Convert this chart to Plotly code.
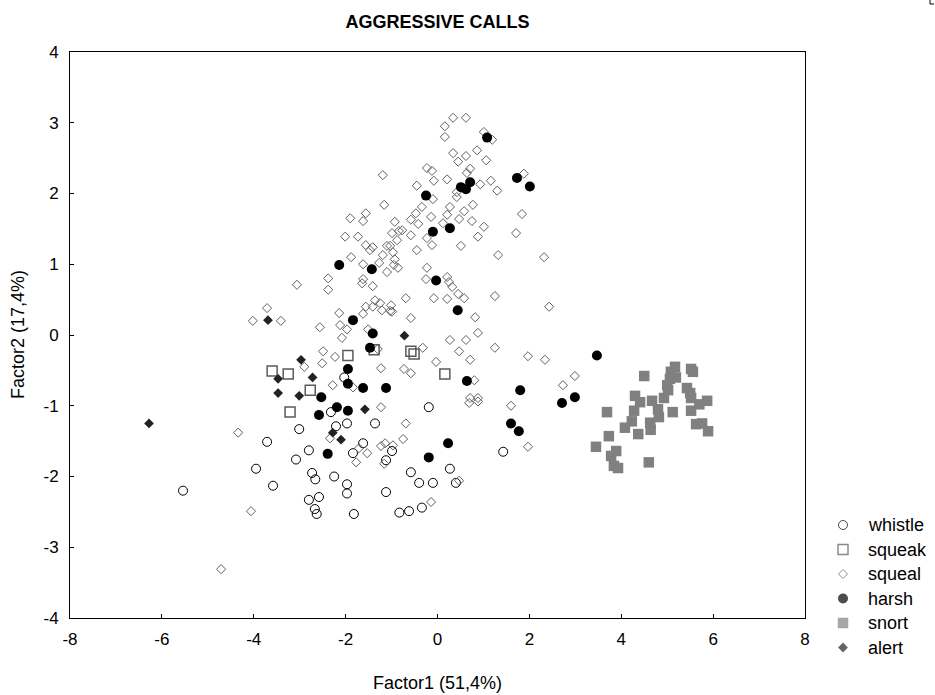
import plotly.graph_objects as go

# Discriminant factor scores per call type: (Factor1, Factor2)
whistle = [
    (-5.54, -2.20), (-3.95, -1.89), (-3.71, -1.51), (-3.58, -2.13), (-3.08, -1.76),
    (-3.01, -1.33), (-2.80, -1.63), (-2.80, -2.33), (-2.73, -1.95), (-2.67, -2.46),
    (-2.66, -2.04), (-2.63, -2.53), (-2.58, -2.29), (-2.32, -1.09), (-2.25, -2.00),
    (-2.21, -1.29), (-2.03, -0.60), (-1.97, -1.25), (-1.97, -2.11), (-1.97, -2.24),
    (-1.84, -1.67), (-1.82, -2.53), (-1.62, -1.53), (-1.36, -1.25), (-1.12, -2.22),
    (-1.12, -1.77), (-0.99, -1.64), (-0.83, -2.51), (-0.62, -2.49), (-0.58, -1.94),
    (-0.40, -2.09), (-0.34, -2.44), (-0.19, -1.02), (-0.10, -2.09), (0.27, -1.89),
    (0.40, -2.09), (1.43, -1.65),
]

squeak = [
    (-3.60, -0.51), (-3.25, -0.55), (-3.21, -1.09), (-2.77, -0.78), (-1.95, -0.29),
    (-1.38, -0.21), (-0.58, -0.23), (-0.51, -0.27), (0.16, -0.55),
]

squeal = [
    # upper cluster
    (-1.19, 2.26), (-1.16, 1.84), (-1.90, 1.65), (-1.56, 1.72), (-1.62, 1.61),
    (-0.93, 1.60), (-2.01, 1.39), (-1.73, 1.39), (-1.56, 1.27), (-1.41, 1.24),
    (-0.99, 1.44), (-0.88, 1.34), (-1.10, 1.26), (-1.03, 1.26), (-0.84, 1.47),
    (0.34, 3.07), (0.62, 3.07), (0.16, 2.95), (0.16, 2.80), (1.01, 2.87),
    (1.19, 2.76), (0.34, 2.57), (0.62, 2.53), (0.86, 2.61), (0.45, 2.45),
    (1.06, 2.47), (-0.23, 2.36), (-0.12, 2.32), (0.71, 2.35), (0.64, 2.29),
    (1.88, 2.28), (-0.08, 2.18), (0.21, 2.20), (1.16, 2.18), (0.93, 2.13),
    (1.30, 2.04), (-0.45, 2.11), (0.42, 2.02), (0.42, 1.95), (-0.10, 1.92),
    (-0.34, 1.81), (0.27, 1.81), (0.77, 1.84), (0.58, 1.75), (-0.47, 1.72),
    (0.21, 1.70), (-0.58, 1.63), (-0.14, 1.67), (0.47, 1.64), (0.75, 1.61),
    (0.12, 1.58), (-0.42, 1.57), (1.84, 1.71), (1.01, 1.53), (-0.77, 1.48),
    (-0.58, 1.41), (-0.23, 1.37), (-0.12, 1.27), (0.51, 1.26), (0.88, 1.39),
    (1.71, 1.44),
    # middle band
    (-1.88, 1.10), (-1.62, 1.00), (-1.27, 1.02), (-1.19, 1.13), (-0.97, 1.17),
    (-1.10, 0.89), (-0.95, 0.99), (-1.47, 1.20), (-3.06, 0.71), (-2.38, 0.80),
    (-2.38, 0.64), (-1.64, 0.73), (-1.41, 0.69), (-1.62, 0.79), (-3.71, 0.38),
    (-4.02, 0.20), (-3.41, 0.20), (-2.14, 0.31), (-1.56, 0.40), (-1.36, 0.49),
    (-1.25, 0.45), (-1.41, 0.40), (-1.21, 0.35), (-1.01, 0.42), (-0.99, 0.33),
    (-1.62, 0.30), (-2.56, 0.11), (-2.12, 0.14), (-1.97, 0.08), (-2.08, -0.04),
    (-1.51, 0.08), (-2.49, -0.23), (-2.23, -0.31), (-2.51, -0.40), (-2.90, -0.45),
    (-1.30, -0.20), (-1.23, -0.47), (-2.28, -0.71), (-1.84, -0.74),
    (-0.45, 1.20), (-0.93, 1.07), (-0.86, 0.95), (-0.23, 0.95), (1.32, 1.13),
    (2.32, 1.10), (-0.25, 0.79), (0.21, 0.82), (0.25, 0.75), (0.32, 0.68),
    (0.45, 0.58), (0.58, 0.52), (-0.69, 0.52), (-0.08, 0.52), (0.21, 0.51),
    (1.25, 0.55), (2.43, 0.40), (-1.03, 0.34), (-0.58, 0.24), (0.82, 0.25),
    (0.88, 0.03), (0.27, -0.07), (0.62, -0.07), (0.47, -0.23), (-0.32, -0.18),
    (1.25, -0.18), (0.71, -0.35), (-0.03, -0.38), (-0.73, -0.48), (-0.58, -0.54),
    (1.97, -0.30), (2.34, -0.35), (2.99, -0.58), (2.73, -0.71), (0.80, -0.64),
    (0.71, -0.89), (0.88, -0.89),
    # lower band
    (0.69, -0.96), (0.88, -0.94), (1.60, -1.00), (-0.69, -1.25), (-0.97, -1.56),
    (-0.75, -1.47), (1.97, -1.58), (0.47, -2.06), (-0.14, -2.36), (-1.23, -1.02),
    (-4.34, -1.38), (-2.34, -1.46), (-1.71, -1.60), (-1.53, -1.67), (-1.77, -1.80),
    (-1.23, -1.57), (-1.14, -1.53), (-1.16, -1.82), (-4.06, -2.49), (-4.71, -3.31),
]

harsh = [
    (1.08, 2.79), (-0.25, 1.97), (0.51, 2.09), (0.71, 2.16), (0.62, 2.06),
    (1.73, 2.22), (2.01, 2.10), (-0.10, 1.46), (0.27, 1.51), (-2.14, 0.99),
    (-1.43, 0.93), (-1.84, 0.21), (-1.41, 0.02), (-1.47, -0.18), (-1.95, -0.48),
    (-1.95, -0.69), (-1.62, -0.75), (-1.12, -0.75), (-2.53, -0.88), (-2.19, -1.02),
    (-1.95, -1.07), (-2.58, -1.13), (-2.39, -1.68), (-0.03, 0.77), (0.44, 0.35),
    (0.64, -0.65), (1.80, -0.78), (2.71, -0.96), (2.99, -0.88), (1.60, -1.25),
    (1.77, -1.36), (0.23, -1.53), (-0.19, -1.73), (3.47, -0.29),
]

snort = [
    (4.50, -0.58), (5.17, -0.45), (5.08, -0.52), (5.19, -0.60), (5.06, -0.62),
    (5.52, -0.48), (5.56, -0.52), (5.00, -0.71), (5.02, -0.78), (5.43, -0.75),
    (5.50, -0.82), (5.52, -0.89), (4.93, -0.89), (4.30, -0.86), (4.41, -0.95),
    (4.67, -0.93), (5.87, -0.93), (5.70, -0.98), (4.80, -1.05), (5.12, -1.09),
    (5.52, -1.07), (4.28, -1.07), (3.69, -1.09), (4.82, -1.16), (4.23, -1.22),
    (4.63, -1.24), (4.08, -1.31), (5.63, -1.26), (5.76, -1.25), (5.89, -1.36),
    (4.64, -1.34), (4.37, -1.40), (3.73, -1.43), (3.45, -1.58), (3.89, -1.64),
    (3.78, -1.71), (3.84, -1.85), (3.93, -1.88), (4.60, -1.80),
]

alert = [
    (-6.28, -1.25), (-3.69, 0.21), (-3.47, -0.62), (-2.97, -0.35), (-2.72, -0.60),
    (-3.47, -0.82), (-3.01, -0.86), (-0.72, -0.01), (-1.58, -1.05), (-2.28, -1.38),
    (-2.10, -1.48),
]

call_types = ["whistle", "squeak", "squeal", "harsh", "snort", "alert"]
series = [whistle, squeak, squeal, harsh, snort, alert]

x_ticks = [-8, -6, -4, -2, 0, 2, 4, 6, 8]
y_ticks = [-4, -3, -2, -1, 0, 1, 2, 3, 4]

# marker style per call type: symbol, size, fill/line colour, line width
styles = {
    "whistle": dict(symbol="circle-open", size=9, color="#000000", line=dict(width=1, color="#000000")),
    "squeak": dict(symbol="square-open", size=10, color="#5a5a5a", line=dict(width=1.5, color="#5a5a5a")),
    "squeal": dict(symbol="diamond-open", size=7, color="#606060", line=dict(width=1, color="#606060")),
    "harsh": dict(symbol="circle", size=10, color="#000000", line=dict(width=0)),
    "snort": dict(symbol="square", size=10.5, color="#808080", line=dict(width=0)),
    "alert": dict(symbol="diamond", size=7.5, color="#222222", line=dict(width=0)),
}

FONT = "Liberation Sans, Arial, sans-serif"
W, H = 935, 695
LEFT, TOP = 70, 52
PANEL_RIGHT, PANEL_BOTTOM = 805, 618
AREA_W, AREA_H = W - LEFT, H - TOP            # drawing area (right/bottom margins are zero)
X_FRAC = (PANEL_RIGHT - LEFT) / AREA_W          # scatter panel width share
Y_FRAC = (H - PANEL_BOTTOM) / AREA_H            # space kept below the scatter panel

# key rows: first row centre and row pitch, in pixels
KEY_TOP, KEY_PITCH = 525, 24.5
KEY_MARK_X = 843

fig = go.Figure()

for name, pts in zip(call_types, series):
    fig.add_trace(go.Scatter(
        x=[p[0] for p in pts],
        y=[p[1] for p in pts],
        mode="markers",
        name=name,
        marker=styles[name],
        showlegend=False,
        xaxis="x", yaxis="y",
    ))

# key drawn on its own pixel-scaled axis pair, one row per call type
rows = list(range(len(call_types)))
fig.add_trace(go.Scatter(
    x=[0] * len(call_types),
    y=rows,
    mode="markers",
    marker=dict(
        symbol=[styles[n]["symbol"] for n in call_types],
        size=[styles[n]["size"] for n in call_types],
        color=[styles[n]["color"] for n in call_types],
        line=dict(width=[styles[n]["line"]["width"] for n in call_types],
                  color=[styles[n]["line"].get("color", styles[n]["color"]) for n in call_types]),
    ),
    showlegend=False,
    hoverinfo="skip",
    cliponaxis=False,
    xaxis="x2", yaxis="y2",
))
for i, name in zip(rows, call_types):
    fig.add_annotation(x=23, y=i, xref="x2", yref="y2", text=name, showarrow=False,
                       xanchor="left", yanchor="middle",
                       font=dict(family=FONT, size=18, color="#000000"))

# axis titles
fig.add_annotation(x=X_FRAC / 2, y=(H - 683) / AREA_H, xref="paper", yref="paper",
                   text="Factor1 (51,4%)", showarrow=False, xanchor="center", yanchor="middle",
                   font=dict(family=FONT, size=18, color="#000000"))
fig.add_annotation(x=(18 - LEFT) / AREA_W, y=Y_FRAC + (1 - Y_FRAC) / 2, xref="paper", yref="paper",
                   text="Factor2 (17,4%)", showarrow=False, textangle=-90,
                   xanchor="center", yanchor="middle",
                   font=dict(family=FONT, size=18, color="#000000"))

axis_common = dict(
    tickmode="array", ticks="inside", ticklen=4, tickcolor="#000000",
    showline=True, linecolor="#000000", linewidth=1, mirror=True,
    showgrid=False, zeroline=False, automargin=False,
    tickfont=dict(family=FONT, size=17, color="#000000"),
)

fig.update_layout(
    width=W, height=H,
    margin=dict(l=LEFT, r=0, t=TOP, b=0, autoexpand=False),
    paper_bgcolor="white",
    plot_bgcolor="white",
    font=dict(family=FONT, size=17, color="#000000"),
    title=dict(text="<b>AGGRESSIVE CALLS</b>", x=(LEFT + PANEL_RIGHT) / 2 / W,
               xanchor="center", y=1 - 22 / H, yanchor="middle",
               font=dict(family=FONT, size=18, color="#000000")),
    xaxis=dict(domain=[0, X_FRAC], range=[-8, 8], tickvals=x_ticks,
               ticktext=[str(v) for v in x_ticks], ticklabelstandoff=6, anchor="y",
               **axis_common),
    yaxis=dict(domain=[Y_FRAC, 1], range=[-4, 4], tickvals=y_ticks,
               ticktext=[str(v) for v in y_ticks], ticklabelstandoff=7, anchor="x",
               **axis_common),
    xaxis2=dict(domain=[X_FRAC, 1], range=[LEFT + X_FRAC * AREA_W - KEY_MARK_X, W - KEY_MARK_X],
                visible=False, anchor="y2", automargin=False),
    yaxis2=dict(domain=[0, 1], range=[(H - KEY_TOP) / KEY_PITCH, (TOP - KEY_TOP) / KEY_PITCH],
                visible=False, anchor="x2", automargin=False),
)

# small corner mark at the top right edge of the page
fig.add_shape(type="path", xref="paper", yref="paper",
              path=f"M {(930 - LEFT) / AREA_W} {1 + TOP / AREA_H} "
                   f"L {(930 - LEFT) / AREA_W} {1 + (TOP - 4) / AREA_H} "
                   f"L {(934 - LEFT) / AREA_W} {1 + (TOP - 4) / AREA_H}",
              line=dict(color="#000000", width=1))

fig.write_html("out.html")
